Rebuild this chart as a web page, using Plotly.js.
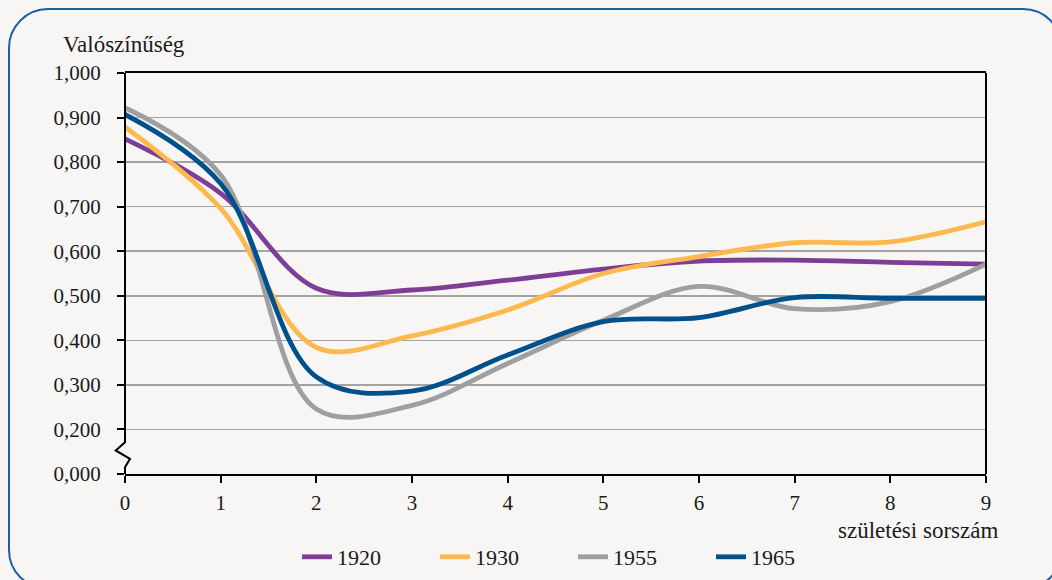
<!DOCTYPE html>
<html>
<head>
<meta charset="utf-8">
<script src="https://cdn.plot.ly/plotly-3.0.1.min.js"></script>
<style>
  html, body { margin: 0; padding: 0; background: #f7f6f4; overflow: hidden; }
  #frame { position: absolute; left: 8px; top: 8px; width: 1055px; height: 582px;
           border: 2px solid #1f5fa0; border-radius: 40px; box-sizing: border-box; }
  #chart { position: absolute; left: 0; top: 0; width: 1052px; height: 580px; }
</style>
</head>
<body>
<div id="frame"></div>
<div id="chart"></div>
<script>
const birthOrder = [0, 1, 2, 3, 4, 5, 6, 7, 8, 9];
const seriesNames = ['1920', '1930', '1955', '1965'];
const s1920 = [0.852, 0.730, 0.517, 0.513, 0.535, 0.560, 0.578, 0.580, 0.575, 0.571];
const s1930 = [0.879, 0.696, 0.384, 0.410, 0.468, 0.550, 0.588, 0.619, 0.621, 0.666];
const s1955 = [0.922, 0.771, 0.246, 0.254, 0.348, 0.445, 0.521, 0.471, 0.487, 0.571];
const s1965 = [0.907, 0.752, 0.318, 0.286, 0.367, 0.442, 0.451, 0.496, 0.494, 0.494];
const yTickVals = [0.1, 0.2, 0.3, 0.4, 0.5, 0.6, 0.7, 0.8, 0.9, 1.0];
const yTickText = ['0,000', '0,200', '0,300', '0,400', '0,500', '0,600', '0,700', '0,800', '0,900', '1,000'];

const colors = ['#7e3d96', '#fdb94d', '#9d9fa0', '#00508c'];
const values = [s1920, s1930, s1955, s1965];
const FONT = "'Liberation Serif', serif";

const traces = values.map((v, i) => ({
  x: birthOrder, y: v, name: seriesNames[i], type: 'scatter', mode: 'lines',
  line: { color: colors[i], width: 4.8, shape: 'spline', smoothing: 1 },
  hoverinfo: 'x+y+name'
}));

const layout = {
  width: 1052, height: 580,
  margin: { l: 125, r: 66, t: 73, b: 106, autoexpand: false },
  paper_bgcolor: 'rgba(0,0,0,0)', plot_bgcolor: 'rgba(0,0,0,0)',
  font: { family: FONT, size: 21, color: '#1a1a1a' },
  showlegend: true,
  legend: { orientation: 'h', x: 0.1998, xanchor: 'left', y: -0.207, yanchor: 'middle',
            font: { family: FONT, size: 22, color: '#1a1a1a' }, bgcolor: 'rgba(0,0,0,0)',
            entrywidth: 93, entrywidthmode: 'pixels', tracegroupgap: 0 },
  xaxis: {
    range: [0, 9], tickvals: birthOrder, ticktext: birthOrder.map(String),
    showgrid: false, zeroline: false, showline: true, mirror: true,
    linecolor: '#000', linewidth: 2, ticks: 'outside', ticklen: 7, tickwidth: 2, tickcolor: '#000',
    ticklabelstandoff: 2,
    tickfont: { family: FONT, size: 21, color: '#1a1a1a' }, fixedrange: true, automargin: false
  },
  yaxis: {
    range: [0.1, 1.0], tickvals: yTickVals, ticktext: yTickText,
    showgrid: true, gridcolor: '#a3a3a3', gridwidth: 1.5, zeroline: false, showline: false,
    ticks: 'outside', ticklen: 7, tickwidth: 2, tickcolor: '#000', ticklabelstandoff: 12,
    tickfont: { family: FONT, size: 21, color: '#1a1a1a' }, fixedrange: true, automargin: false
  },
  shapes: [
    { type: 'line', xref: 'paper', yref: 'paper', x0: 1, x1: 1, y0: 0, y1: 1,
      line: { color: '#000', width: 2 } },
    { type: 'path', xref: 'paper', yref: 'paper',
      path: 'M 0 1 L 0 0.0793 L -0.0108 0.0587 L 0.0058 0.038 L 0 0.017 L 0 0',
      line: { color: '#000', width: 2 } }
  ],
  annotations: [
    { text: 'Valószínűség', xref: 'paper', yref: 'paper', x: -0.074, y: 1.07,
      xanchor: 'left', yanchor: 'middle', showarrow: false,
      font: { family: FONT, size: 23, color: '#1a1a1a' } },
    { text: 'születési sorszám', xref: 'paper', yref: 'paper', x: 1.016, y: -0.14,
      xanchor: 'right', yanchor: 'middle', showarrow: false,
      font: { family: FONT, size: 23, color: '#1a1a1a' } }
  ]
};

Plotly.newPlot('chart', traces, layout, { displayModeBar: false, staticPlot: true });
</script>
</body>
</html>
